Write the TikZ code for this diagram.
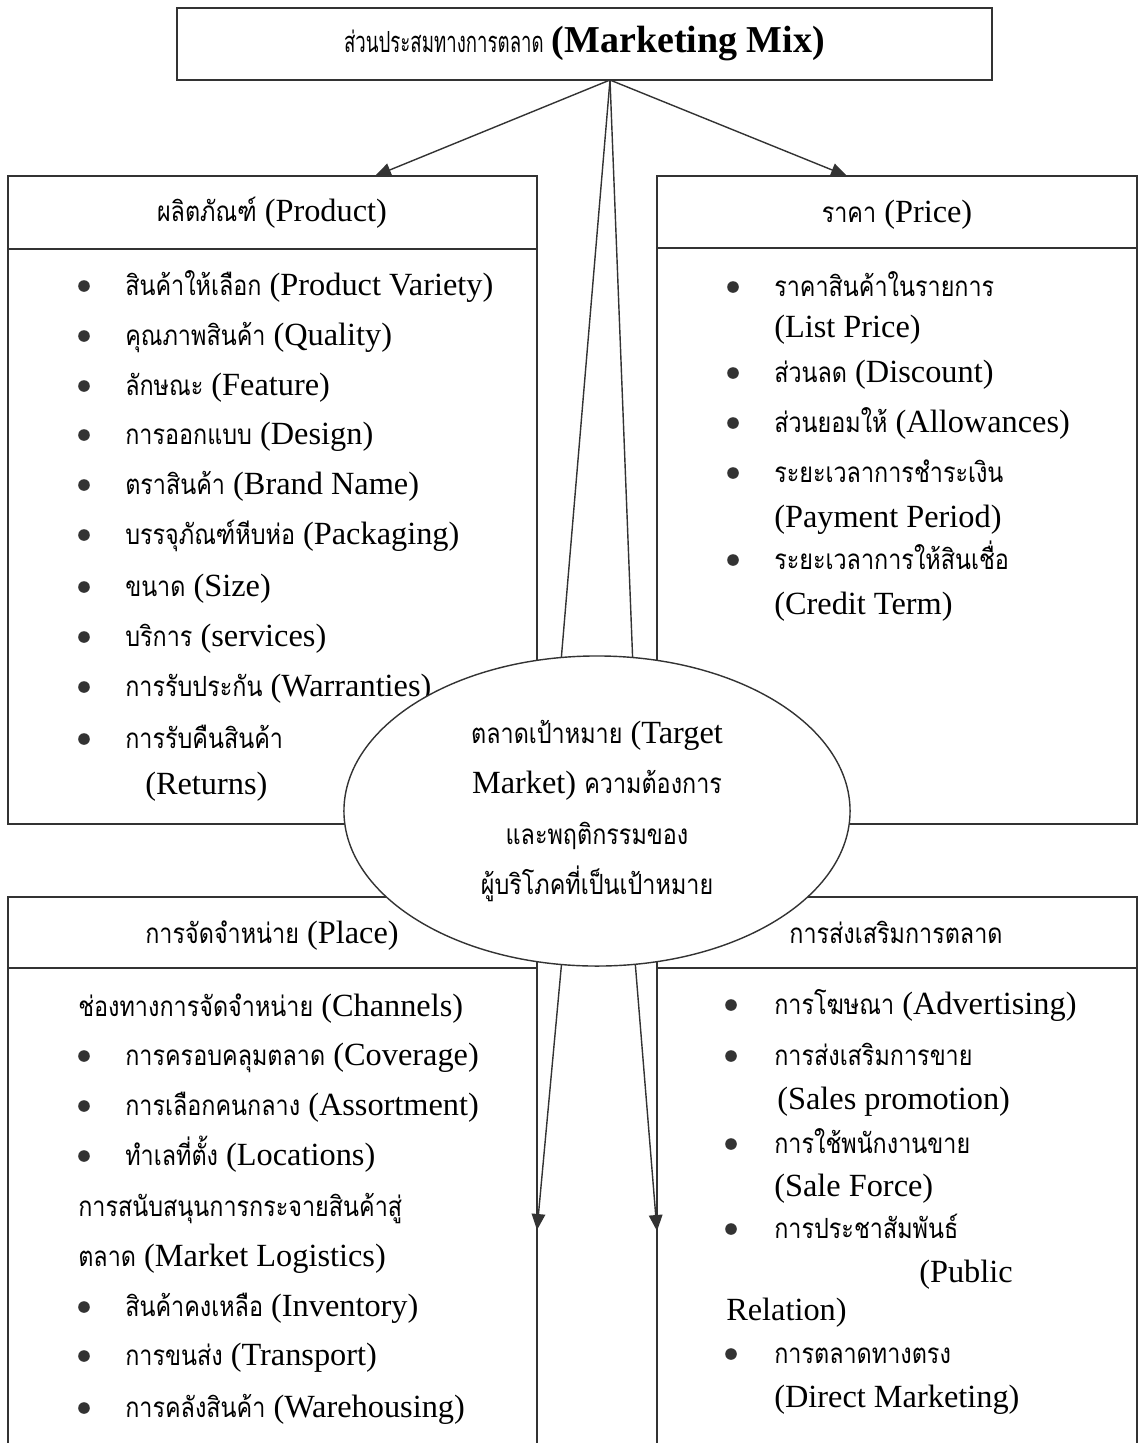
\documentclass[tikz,border=0pt]{standalone}
\usepackage{fontspec}
\setmainfont{Liberation Serif}
\newfontfamily\thaifont[Script=Thai,Scale=0.86,FakeStretch=0.84]{Loma}
\newfontfamily\thaititle[Script=Thai,Scale=0.9,FakeStretch=0.64]{Loma}
\usetikzlibrary{arrows.meta}
\usetikzlibrary{shapes.geometric}

\definecolor{ink}{HTML}{333333}
\newcommand{\tht}[1]{{\thaifont #1}}

\tikzset{
  boxline/.style={draw=ink,line width=1.1pt},
  dot/.style={circle,fill=ink,inner sep=0pt,minimum size=2.9mm,anchor=center}
}

\begin{document}
\begin{tikzpicture}[x=0.025cm,y=-0.025cm,font=\fontsize{23}{27}\selectfont]
\useasboundingbox (0,0) rectangle (1138,1443);

% the four boxes
\draw[boxline] (8,176) rectangle (537,824);
\draw[boxline] (8,249) -- (537,249);
\draw[boxline] (657,176) rectangle (1137,824);
\draw[boxline] (657,248) -- (1137,248);
\draw[boxline] (8,1443) -- (8,897) -- (537,897) -- (537,1443);
\draw[boxline] (8,968) -- (537,968);
\draw[boxline] (657,1443) -- (657,897) -- (1137,897) -- (1137,1443);
\draw[boxline] (657,968) -- (1137,968);

\node[boxline,minimum width=20.375cm,minimum height=1.8cm]
  (mix) at (584.5,44) {{\thaititle ส่วนประสมทางการตลาด}
                       {\fontsize{27}{30}\selectfont\textbf{(Marketing Mix)}}};
\coordinate (mixfoot) at (610,80);

\begin{scope}[every node/.style={anchor=base west,inner sep=0pt}]
    % Product
    \node [anchor=base] (prodhead) at (272,221) {\tht{ผลิตภัณฑ์} (Product)};
    \node [dot] (pb1) at (84,286) {};
    \node (p1) at (125,295) {\tht{สินค้าให้เลือก} (Product Variety)};
    \node [dot] (pb2) at (84,336) {};
    \node (p2) at (125,345) {\tht{คุณภาพสินค้า} (Quality)};
    \node [dot] (pb3) at (84,386) {};
    \node (p3) at (125,395) {\tht{ลักษณะ} (Feature)};
    \node [dot] (pb4) at (84,435) {};
    \node (p4) at (125,444) {\tht{การออกแบบ} (Design)};
    \node [dot] (pb5) at (84,485) {};
    \node (p5) at (125,494) {\tht{ตราสินค้า} (Brand Name)};
    \node [dot] (pb6) at (84,535) {};
    \node (p6) at (125,544) {\tht{บรรจุภัณฑ์หีบห่อ} (Packaging)};
    \node [dot] (pb7) at (84,587) {};
    \node (p7) at (125,596) {\tht{ขนาด} (Size)};
    \node [dot] (pb8) at (84,637) {};
    \node (p8) at (125,646) {\tht{บริการ} (services)};
    \node [dot] (pb9) at (84,687) {};
    \node (p9) at (125,696) {\tht{การรับประกัน} (Warranties)};
    \node [dot] (pb10) at (84,739) {};
    \node (p10) at (125,748) {\tht{การรับคืนสินค้า}};
    \node (p11) at (145,794) {(Returns)};

    % Price
    \node [anchor=base] (pricehead) at (897,222) {\tht{ราคา} (Price)};
    \node [dot] (rb1) at (733,287) {};
    \node (r1) at (774,296) {\tht{ราคาสินค้าในรายการ}};
    \node (r2) at (774,337) {(List Price)};
    \node [dot] (rb3) at (733,373) {};
    \node (r3) at (774,382) {\tht{ส่วนลด} (Discount)};
    \node [dot] (rb4) at (733,423) {};
    \node (r4) at (774,432) {\tht{ส่วนยอมให้} (Allowances)};
    \node [dot] (rb5) at (733,473) {};
    \node (r5) at (774,482) {\tht{ระยะเวลาการชำระเงิน}};
    \node (r6) at (774,527) {(Payment Period)};
    \node [dot] (rb7) at (733,560) {};
    \node (r7) at (774,569) {\tht{ระยะเวลาการให้สินเชื่อ}};
    \node (r8) at (774,614) {(Credit Term)};

    % Place
    \node [anchor=base] (placehead) at (272,943) {\tht{การจัดจำหน่าย} (Place)};
    \node (l1) at (78,1016) {\tht{ช่องทางการจัดจำหน่าย} (Channels)};
    \node [dot] (lb2) at (84,1056) {};
    \node (l2) at (125,1065) {\tht{การครอบคลุมตลาด} (Coverage)};
    \node [dot] (lb3) at (84,1106) {};
    \node (l3) at (125,1115) {\tht{การเลือกคนกลาง} (Assortment)};
    \node [dot] (lb4) at (84,1156) {};
    \node (l4) at (125,1165) {\tht{ทำเลที่ตั้ง} (Locations)};
    \node (l5) at (78,1216) {\tht{การสนับสนุนการกระจายสินค้าสู่}};
    \node (l6) at (78,1266) {\tht{ตลาด} (Market Logistics)};
    \node [dot] (lb7) at (84,1307) {};
    \node (l7) at (125,1316) {\tht{สินค้าคงเหลือ} (Inventory)};
    \node [dot] (lb8) at (84,1356) {};
    \node (l8) at (125,1365) {\tht{การขนส่ง} (Transport)};
    \node [dot] (lb9) at (84,1408) {};
    \node (l9) at (125,1417) {\tht{การคลังสินค้า} (Warehousing)};

    % Promotion
    \node [anchor=base] (promohead) at (896,943) {\tht{การส่งเสริมการตลาด}};
    \node [dot] (mb1) at (731,1005) {};
    \node (m1) at (774,1014) {\tht{การโฆษณา} (Advertising)};
    \node [dot] (mb2) at (731,1056) {};
    \node (m2) at (774,1065) {\tht{การส่งเสริมการขาย}};
    \node (m3) at (777,1109) {(Sales promotion)};
    \node [dot] (mb4) at (731,1144) {};
    \node (m4) at (774,1153) {\tht{การใช้พนักงานขาย}};
    \node (m5) at (774,1196) {(Sale Force)};
    \node [dot] (mb6) at (731,1229) {};
    \node (m6) at (774,1238) {\tht{การประชาสัมพันธ์}};
    \node (m7) at (919,1282) {(Public};
    \node (m8) at (726,1320) {Relation)};
    \node [dot] (mb9) at (731,1354) {};
    \node (m9) at (774,1363) {\tht{การตลาดทางตรง}};
    \node (m10) at (774,1407) {(Direct Marketing)};
\end{scope}

\node[ellipse,draw=ink,line width=1pt,fill=white,minimum width=12.65cm,minimum height=7.75cm,
      align=center,font=\fontsize{23}{35.6}\selectfont]
  (tm) at (597,811) {\tht{ตลาดเป้าหมาย} (Target\\Market) \tht{ความต้องการ}\\
                     \tht{และพฤติกรรมของ}\\\tht{ผู้บริโภคที่เป็นเป้าหมาย}};

\begin{scope}[>={Triangle[length=4mm,width=3.4mm]},
              every edge/.style={draw=ink,line width=1pt}]
    \coordinate (prodin) at (375,176);
    \coordinate (pricein) at (847,176);
    \coordinate (placein) at (537,1230);
    \coordinate (promoin) at (657,1231);
    \path [->] (mixfoot) edge (prodin);
    \path [->] (mixfoot) edge (pricein);
    \path [-] (mixfoot) edge (tm.103);
    \path [-] (mixfoot) edge (tm.77);
    \path [->] (tm.257) edge (placein);
    \path [->] (tm.284) edge (promoin);
\end{scope}
\end{tikzpicture}
\end{document}
